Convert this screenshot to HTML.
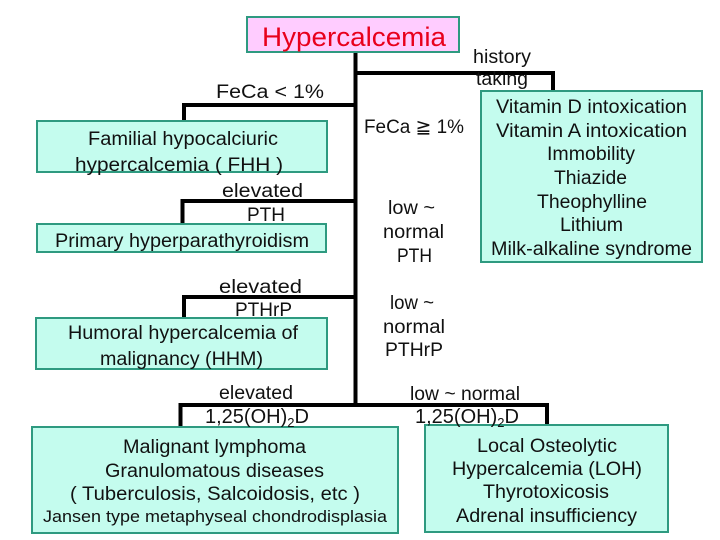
<!DOCTYPE html>
<html><head><meta charset="utf-8"><style>
html,body{margin:0;padding:0;background:#fff;}
svg{display:block;}
text{font-family:"Liberation Sans","DejaVu Sans",sans-serif;fill:#111;}
</style></head><body>
<svg width="720" height="540" viewBox="0 0 720 540" xmlns="http://www.w3.org/2000/svg">
<g stroke="#000" stroke-width="4" fill="none" stroke-linecap="square">
<line x1="355.5" y1="53" x2="355.5" y2="405"/>
<polyline points="355.5,73 553,73 553,91"/>
<polyline points="355.5,105 184,105 184,121"/>
<polyline points="355.5,201 182.5,201 182.5,224"/>
<polyline points="355.5,297 184,297 184,318"/>
<polyline points="180.5,427 180.5,405 547,405 547,425"/>
</g>
<g stroke="#2e9a80" stroke-width="2" fill="#c4fcee">
<rect x="247" y="17" width="212" height="35" fill="#ffccff"/>
<rect x="481" y="91" width="221" height="171"/>
<rect x="37" y="121" width="290" height="51"/>
<rect x="37" y="224" width="289" height="28"/>
<rect x="36" y="318" width="291" height="51"/>
<rect x="32" y="427" width="366" height="106"/>
<rect x="425" y="425" width="243" height="107"/>
</g>
<text x="262" y="46" font-size="27" fill="#e8001c" style="fill:#e8001c" textLength="184" lengthAdjust="spacingAndGlyphs">Hypercalcemia</text>
<g font-size="19" text-anchor="start">
<text x="473" y="63" textLength="58" lengthAdjust="spacingAndGlyphs">history</text>
<text x="476" y="85" textLength="52" lengthAdjust="spacingAndGlyphs">taking</text>
<text x="216" y="98" textLength="108" lengthAdjust="spacingAndGlyphs">FeCa &lt; 1%</text>
<text x="364" y="133" textLength="100" lengthAdjust="spacingAndGlyphs">FeCa ≧ 1%</text>

<text x="496" y="113" textLength="191" lengthAdjust="spacingAndGlyphs">Vitamin D intoxication</text>
<text x="496" y="137" textLength="191" lengthAdjust="spacingAndGlyphs">Vitamin A intoxication</text>
<text x="547" y="160" textLength="88" lengthAdjust="spacingAndGlyphs">Immobility</text>
<text x="554" y="184" textLength="73" lengthAdjust="spacingAndGlyphs">Thiazide</text>
<text x="537" y="208" textLength="110" lengthAdjust="spacingAndGlyphs">Theophylline</text>
<text x="560" y="231" textLength="63" lengthAdjust="spacingAndGlyphs">Lithium</text>
<text x="491" y="255" textLength="201" lengthAdjust="spacingAndGlyphs">Milk-alkaline syndrome</text>

<text x="88" y="145" textLength="190" lengthAdjust="spacingAndGlyphs">Familial hypocalciuric</text>
<text x="75" y="171" textLength="208" lengthAdjust="spacingAndGlyphs">hypercalcemia  ( FHH )</text>

<text x="222" y="197" textLength="81" lengthAdjust="spacingAndGlyphs">elevated</text>
<text x="247" y="221" textLength="38" lengthAdjust="spacingAndGlyphs">PTH</text>
<text x="388" y="214" textLength="47" lengthAdjust="spacingAndGlyphs">low ~</text>
<text x="383" y="238" textLength="61" lengthAdjust="spacingAndGlyphs">normal</text>
<text x="397" y="262" textLength="35" lengthAdjust="spacingAndGlyphs">PTH</text>
<text x="55" y="247" textLength="254" lengthAdjust="spacingAndGlyphs">Primary hyperparathyroidism</text>

<text x="219" y="293" textLength="83" lengthAdjust="spacingAndGlyphs">elevated</text>
<text x="235" y="316" textLength="57" lengthAdjust="spacingAndGlyphs">PTHrP</text>
<text x="390" y="309" textLength="44" lengthAdjust="spacingAndGlyphs">low ~</text>
<text x="383" y="333" textLength="62" lengthAdjust="spacingAndGlyphs">normal</text>
<text x="385" y="356" textLength="58" lengthAdjust="spacingAndGlyphs">PTHrP</text>
<text x="68" y="339" textLength="230" lengthAdjust="spacingAndGlyphs">Humoral hypercalcemia of</text>
<text x="100" y="365" textLength="163" lengthAdjust="spacingAndGlyphs">malignancy (HHM)</text>

<text x="219" y="399" textLength="74" lengthAdjust="spacingAndGlyphs">elevated</text>
<text x="205" y="423" font-size="20">1,25(OH)<tspan font-size="13" dy="4">2</tspan><tspan dy="-4">D</tspan></text>
<text x="410" y="400" textLength="110" lengthAdjust="spacingAndGlyphs">low ~ normal</text>
<text x="415" y="423" font-size="20">1,25(OH)<tspan font-size="13" dy="4">2</tspan><tspan dy="-4">D</tspan></text>

<text x="123" y="453" textLength="183" lengthAdjust="spacingAndGlyphs">Malignant lymphoma</text>
<text x="105" y="477" textLength="219" lengthAdjust="spacingAndGlyphs">Granulomatous diseases</text>
<text x="70" y="500" textLength="290" lengthAdjust="spacingAndGlyphs">( Tuberculosis, Salcoidosis, etc )</text>
<text x="43" y="522" font-size="17" textLength="344" lengthAdjust="spacingAndGlyphs">Jansen type metaphyseal chondrodisplasia</text>

<text x="477" y="452" textLength="140" lengthAdjust="spacingAndGlyphs">Local Osteolytic</text>
<text x="452" y="475" textLength="190" lengthAdjust="spacingAndGlyphs">Hypercalcemia (LOH)</text>
<text x="483" y="498" textLength="126" lengthAdjust="spacingAndGlyphs">Thyrotoxicosis</text>
<text x="456" y="522" textLength="181" lengthAdjust="spacingAndGlyphs">Adrenal insufficiency</text>
</g>
</svg>
</body></html>
